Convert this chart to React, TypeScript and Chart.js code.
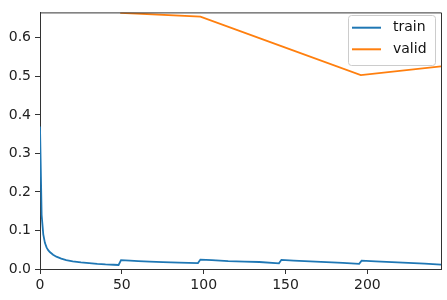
import React, { useEffect, useRef } from "react";
import { Chart, registerables } from "chart.js";

Chart.register(...registerables);

const trainIters = [0, 1, 2, 3, 4, 5, 6, 8, 10, 13, 16, 20, 25, 30, 35, 40, 45, 48,
  49.5, 55, 60, 67, 75, 85, 96.5,
  98, 105, 115, 125, 134, 146,
  147.5, 155, 165, 175, 185, 195,
  196.5, 205, 215, 225, 235, 245];
const trainLoss = [0.37, 0.14, 0.09, 0.068, 0.056, 0.049, 0.044, 0.037, 0.032, 0.027, 0.023, 0.02, 0.017, 0.0155, 0.0135, 0.012, 0.011, 0.0105,
  0.023, 0.0215, 0.0205, 0.0192, 0.018, 0.0168, 0.0155,
  0.0245, 0.0228, 0.0205, 0.0192, 0.0182, 0.0148,
  0.0238, 0.022, 0.0198, 0.0178, 0.0158, 0.0135,
  0.0218, 0.0198, 0.0178, 0.0158, 0.0138, 0.0115];

const validIters = [49, 98, 147, 196, 245];
const validLoss = [0.665, 0.655, 0.579, 0.503, 0.526];

const seriesNames = ["train", "valid"];
const seriesColors = ["#1f77b4", "#ff7f0e"];

const xTickStep = 50;
const yTickStep = 0.1;
const xMax = 245;
const yMax = 0.666;

const FONT = "DejaVu Sans";

export default function App() {
  const ref = useRef<HTMLCanvasElement | null>(null);

  useEffect(() => {
    if (!ref.current) return;
    const framePlugin = {
      id: "frameLegend",
      afterDatasetsDraw(chart: any) {
        const { ctx, chartArea: a } = chart;
        ctx.save();
        ctx.strokeStyle = "#333";
        ctx.lineWidth = 1;
        ctx.beginPath();
        ctx.moveTo(a.left, a.top + 0.5);
        ctx.lineTo(a.right + 0.5, a.top + 0.5);
        ctx.lineTo(a.right + 0.5, a.bottom);
        ctx.stroke();

        // legend box
        const bx = 348.5, by = 15.5, bw = 87, bh = 50, r = 3;
        ctx.fillStyle = "rgba(255,255,255,0.8)";
        ctx.strokeStyle = "#cccccc";
        ctx.beginPath();
        ctx.moveTo(bx + r, by);
        ctx.lineTo(bx + bw - r, by);
        ctx.quadraticCurveTo(bx + bw, by, bx + bw, by + r);
        ctx.lineTo(bx + bw, by + bh - r);
        ctx.quadraticCurveTo(bx + bw, by + bh, bx + bw - r, by + bh);
        ctx.lineTo(bx + r, by + bh);
        ctx.quadraticCurveTo(bx, by + bh, bx, by + bh - r);
        ctx.lineTo(bx, by + r);
        ctx.quadraticCurveTo(bx, by, bx + r, by);
        ctx.closePath();
        ctx.fill();
        ctx.stroke();

        const rows = [27.7, 49.3];
        ctx.font = `14px "${FONT}"`;
        ctx.textBaseline = "middle";
        ctx.textAlign = "left";
        seriesNames.forEach((name, i) => {
          ctx.strokeStyle = seriesColors[i];
          ctx.lineWidth = 2;
          ctx.beginPath();
          ctx.moveTo(352, rows[i]);
          ctx.lineTo(381, rows[i]);
          ctx.stroke();
          ctx.fillStyle = "#111";
          ctx.fillText(name, 393, rows[i]);
        });
        ctx.restore();
      },
    };

    const chart = new Chart(ref.current, {
      type: "line",
      data: {
        datasets: [
          {
            label: seriesNames[0],
            data: trainIters.map((x, i) => ({ x, y: trainLoss[i] })),
            borderColor: seriesColors[0],
            borderWidth: 1.8,
            pointRadius: 0,
            tension: 0,
            fill: false,
            clip: 0,
          },
          {
            label: seriesNames[1],
            data: validIters.map((x, i) => ({ x, y: validLoss[i] })),
            borderColor: seriesColors[1],
            borderWidth: 1.8,
            pointRadius: 0,
            tension: 0,
            fill: false,
            clip: 0,
          },
        ],
      },
      options: {
        animation: false,
        responsive: false,
        layout: { padding: { top: 7, right: 6, left: 0, bottom: 0 } },
        plugins: { legend: { display: false }, tooltip: { enabled: false } },
        scales: {
          x: {
            type: "linear",
            min: 0,
            max: xMax,
            afterFit: (s: any) => { s.height = 31; },
            ticks: {
              stepSize: xTickStep,
              includeBounds: false,
              padding: 3,
              color: "#222",
              font: { family: FONT, size: 14 },
              maxRotation: 0,
              callback: (v: any) => String(v),
            },
            grid: { drawOnChartArea: false, drawTicks: true, tickLength: 5, color: "#333", tickWidth: 1 },
            border: { display: true, color: "#333", width: 1 },
          },
          y: {
            type: "linear",
            min: 0,
            max: yMax,
            afterFit: (s: any) => { s.width = 40; },
            ticks: {
              stepSize: yTickStep,
              includeBounds: false,
              padding: 4,
              color: "#222",
              font: { family: FONT, size: 14 },
              callback: (v: any) => Number(v).toFixed(1),
            },
            grid: { drawOnChartArea: false, drawTicks: true, tickLength: 5, color: "#333", tickWidth: 1 },
            border: { display: true, color: "#333", width: 1 },
          },
        },
      },
      plugins: [framePlugin],
    });
    return () => chart.destroy();
  }, []);

  return (
    <div style={{ position: "absolute", left: 0, top: 0, width: 447, height: 300, background: "#fff" }}>
      <canvas ref={ref} width={447} height={300} style={{ width: 447, height: 300 }} />
    </div>
  );
}
